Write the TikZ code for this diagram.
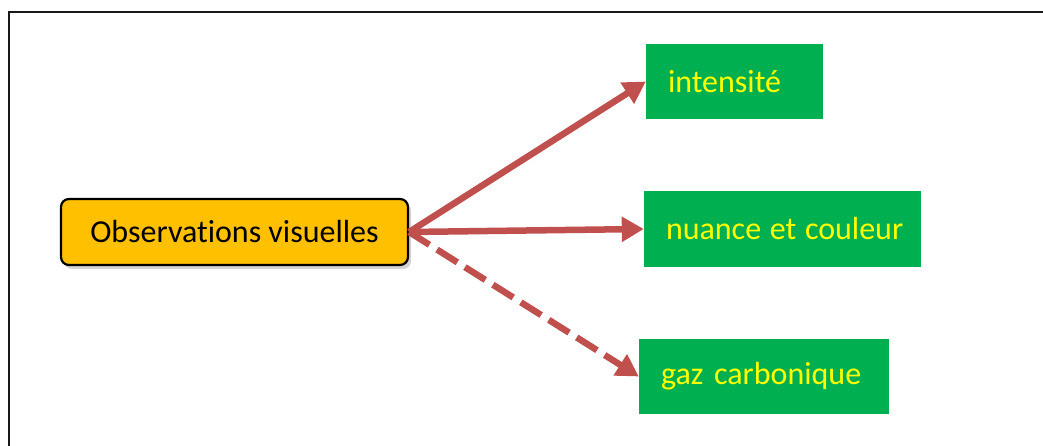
\documentclass[tikz,border=0pt]{standalone}
\usepackage{fontspec}
\setmainfont{Carlito}[Ligatures=NoCommon]
\usetikzlibrary{arrows.meta,shadows}

\definecolor{orangebox}{HTML}{FFC000}
\definecolor{greenbox}{HTML}{00B050}
\definecolor{yellowtext}{HTML}{FFFF00}
\definecolor{redarrow}{HTML}{C0504D}

\tikzstyle{obs} = [rectangle, draw=black, line width=2.2pt, fill=orangebox, rounded corners=8pt, minimum width=347pt, minimum height=66pt, font=\fontsize{32}{38}\selectfont, drop shadow={shadow xshift=3pt, shadow yshift=-4pt, opacity=0.35}]
\tikzstyle{res} = [rectangle, fill=greenbox, text=yellowtext, minimum height=75pt, inner xsep=22pt, align=left, font=\fontsize{32}{38}\selectfont]
\tikzstyle{fleche} = [-{Triangle[length=22pt, width=24pt]}, line width=6.5pt, draw=redarrow]
\tikzstyle{tiret} = [fleche, dash pattern=on 24pt off 9pt]

\begin{document}
\begin{tikzpicture}[x=1pt, y=-1pt]
	\useasboundingbox (0,0) rectangle (1043,446);
	\draw [line width=2.5pt, black!90] (9,446) -- (9,12) -- (1043,12);

	\node [obs] (obs) at (234.5,232) {Observations visuelles};
	\node [res, text width=133pt] (int) at (734.5,81.5) {\mbox{intensité}};
	\node [res, text width=233pt] (nua) at (782.5,229) {\mbox{nuance\hspace{-2pt} et\hspace{-2pt} couleur}};
	\node [res, text width=206pt] (gaz) at (764,376.5) {\mbox{gaz carbonique}};

	\draw [fleche] (obs.east) -- (int.west);
	\draw [fleche] (obs.east) -- (nua.west);
	\draw [tiret] (obs.east) -- (gaz.west);
\end{tikzpicture}
\end{document}
